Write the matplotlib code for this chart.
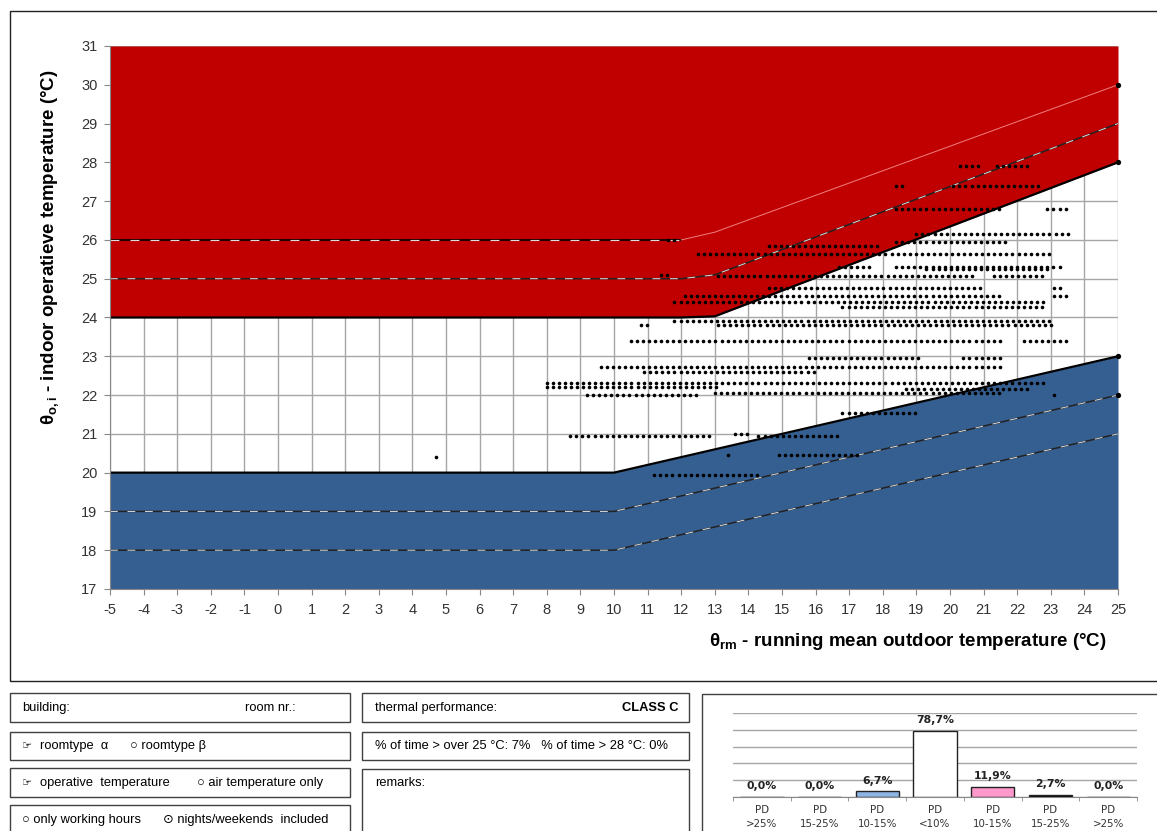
import numpy as np
import matplotlib
matplotlib.use("Agg")
import matplotlib.pyplot as plt
from matplotlib.patches import Rectangle

plt.rcParams['font.family'] = ['Liberation Sans', 'DejaVu Sans']
plt.rcParams['mathtext.fontset'] = 'custom'
plt.rcParams['mathtext.rm'] = 'Liberation Sans'
plt.rcParams['mathtext.bf'] = 'Liberation Sans:bold'
plt.rcParams['mathtext.it'] = 'Liberation Sans:italic'
plt.rcParams['axes.unicode_minus'] = False

# ---------- comfort band limits ----------
band_x = [-5, 12, 13, 25]
upper_limit = [24, 24, 24.03, 28]      # red zone starts here
upper_line_25 = [25, 25, 25.1, 29]
upper_line_26 = [26, 26, 26.2, 30]
low_x = [-5, 10, 25]
lower_limit = [20, 20, 23]             # blue zone ends here
lower_line_19 = [19, 19, 22]
lower_line_18 = [18, 18, 21]

# ---------- measured hours: rows of dots (y, x from, x to) ----------
dot_rows = [
    (27.9, 20.3, 21.0), (27.9, 21.4, 22.3),
    (27.4, 18.4, 18.6), (27.4, 20.1, 22.7),
    (26.8, 18.4, 21.5), (26.8, 22.9, 23.5),
    (26.15, 19.0, 23.5), (26.0, 11.6, 11.9),
    (25.95, 18.4, 21.8), (25.85, 14.6, 17.9),
    (25.65, 12.5, 23.1),
    (25.3, 16.7, 17.7), (25.3, 18.4, 23.4), (25.25, 19.3, 22.9),
    (25.1, 11.4, 11.7), (25.07, 13.1, 20.8), (25.07, 21.3, 22.9),
    (24.75, 14.6, 21.0), (24.75, 23.1, 23.4),
    (24.55, 12.1, 21.5), (24.55, 23.1, 23.6),
    (24.4, 11.8, 22.8), (24.27, 16.8, 22.8),
    (23.9, 11.8, 23.0), (23.8, 10.8, 11.1), (23.8, 13.1, 23.0),
    (23.4, 10.5, 21.5), (23.4, 22.2, 23.5),
    (22.95, 15.8, 19.1), (22.95, 20.4, 21.5),
    (22.73, 9.6, 21.5), (22.6, 10.9, 16.0),
    (22.3, 8.0, 22.9), (22.2, 8.0, 13.1), (22.15, 18.7, 22.3),
    (22.05, 13.0, 21.5), (22.0, 9.2, 12.5), (22.0, 23.1, 23.1),
    (21.55, 16.8, 19.0),
    (21.0, 13.6, 14.0), (20.95, 8.7, 12.9), (20.95, 14.3, 16.8),
    (20.45, 14.9, 17.3), (20.45, 13.4, 13.4),
    (19.95, 11.2, 14.3),
    (20.4, 4.7, 4.7),
]
dot_step = 0.18

# ---------- PD distribution ----------
pd_labels = ['PD\n>25%', 'PD\n15-25%', 'PD\n10-15%', 'PD\n<10%',
             'PD\n10-15%', 'PD\n15-25%', 'PD\n>25%']
pd_values = [0.0, 0.0, 6.7, 78.7, 11.9, 2.7, 0.0]
pd_colors = ['white', 'white', '#8db4e2', 'white', '#ff99cc', 'black', 'white']

W, H = 1157, 831
fig = plt.figure(figsize=(W / 100, H / 100), dpi=100)

def fx(px):
    return px / W

def fy(py):
    return 1 - py / H

def box(x0, y0, x1, y1, ec='#404040', lw=1.0):
    fig.add_artist(Rectangle((fx(x0), fy(y1)), (x1 - x0) / W, (y1 - y0) / H,
                             transform=fig.transFigure, fill=False, ec=ec, lw=lw))

# ---------- main chart ----------
ax = fig.add_axes([fx(110), fy(589), fx(1118) - fx(110), fy(46) - fy(589)])
ax.set_xlim(-5, 25)
ax.set_ylim(17, 31)
ax.set_xticks(range(-5, 26))
ax.set_yticks(range(17, 32))
ax.set_axisbelow(True)
ax.grid(True, color='#a6a6a6', lw=1)
for s in ['top', 'right']:
    ax.spines[s].set_visible(False)
for s in ['left', 'bottom']:
    ax.spines[s].set_color('#888888')
ax.tick_params(colors='#888888', length=4, labelsize=10.5, labelcolor='#333333')
ax.tick_params(axis='x', pad=6)
ax.tick_params(axis='y', pad=5)

red = '#c00000'
blue = '#365f91'
ax.fill_between(band_x, upper_limit, 31, color=red, lw=0, zorder=1)
ax.fill_between(low_x, 17, lower_limit, color=blue, lw=0, zorder=1)

# band lines
ax.plot(band_x, upper_limit, color='black', lw=1.6, zorder=2)
ax.plot(low_x, lower_limit, color='black', lw=1.6, zorder=2)
ax.plot(band_x[:2], upper_line_26[:2], color='black', lw=1.2, zorder=2)
ax.plot(band_x[:2], upper_line_26[:2], color='#dddddd', lw=0.8, dashes=(8, 10), zorder=2)
ax.plot(band_x[1:], upper_line_26[1:], color='#f08080', lw=0.7, zorder=2)
for xs, ys in [(band_x, upper_line_25), (low_x, lower_line_19), (low_x, lower_line_18)]:
    ax.plot(xs, ys, color='#222222', lw=1.1, zorder=2)
    ax.plot(xs, ys, color='#e0e0e0', lw=0.7, dashes=(8, 10), zorder=2)
for ys, xs in [(upper_line_26, band_x), (upper_limit, band_x),
               (lower_limit, low_x), (lower_line_19, low_x)]:
    ax.plot(xs[-1], ys[-1], 'o', color='black', ms=2.8, zorder=4, clip_on=False)

# measured dots
for y, x0, x1 in dot_rows:
    xs = np.arange(x0, x1 + 0.01, dot_step)
    ax.plot(xs, np.full(len(xs), y), 'o', color='black', ms=2.6, mew=0, zorder=3)

fig.text(fx(1107), fy(641), r'θ$_{\mathbf{rm}}$ - running mean outdoor temperature (°C)',
         ha='right', va='center', fontsize=13.5, fontweight='bold')
fig.text(fx(50), fy(247), r'θ$_{\mathbf{o,i}}$ - indoor operatieve temperature (°C)',
         ha='center', va='center', rotation=90, fontsize=13.5, fontweight='bold')

# outer frame of chart
box(9.5, 10.5, 1200, 681, ec='#222222', lw=1.0)

# ---------- info boxes ----------
box(10, 693, 350, 722)
box(10, 732, 350, 760)
box(10, 768, 350, 797)
box(10, 805, 350, 860)
box(362, 693, 689, 722)
box(362, 732, 689, 760)
box(362, 769, 689, 860)
box(702, 694, 1200, 860)

fs = 9.3
fig.text(fx(22), fy(708), 'building:', va='center', fontsize=fs)
fig.text(fx(245), fy(708), 'room nr.:', va='center', fontsize=fs)
fig.text(fx(22), fy(746), '☞', va='center', fontsize=8, family=['DejaVu Sans'])
fig.text(fx(40), fy(746), 'roomtype  α', va='center', fontsize=fs)
fig.text(fx(130), fy(746), '○ roomtype β', va='center', fontsize=fs)
fig.text(fx(22), fy(783), '☞', va='center', fontsize=8, family=['DejaVu Sans'])
fig.text(fx(40), fy(783), 'operative  temperature', va='center', fontsize=fs)
fig.text(fx(197), fy(783), '○ air temperature only', va='center', fontsize=fs)
fig.text(fx(22), fy(820), '○ only working hours', va='center', fontsize=fs)
fig.text(fx(163), fy(820), '⊙ nights/weekends  included', va='center', fontsize=fs)

fig.text(fx(375), fy(708), 'thermal performance:', va='center', fontsize=fs)
fig.text(fx(678), fy(708), 'CLASS C', va='center', ha='right', fontsize=fs, fontweight='bold')
fig.text(fx(375), fy(746), '% of time > over 25 °C: 7%   % of time > 28 °C: 0%',
         va='center', fontsize=fs)
fig.text(fx(375), fy(783), 'remarks:', va='center', fontsize=fs)

# ---------- PD bar chart ----------
bx = fig.add_axes([fx(733), fy(797), fx(1137) - fx(733), fy(713) - fy(797)])
pos = np.arange(len(pd_values))
bx.bar(pos, pd_values, width=0.75, color=pd_colors, edgecolor='#222222', lw=1, zorder=2)
bx.set_xlim(-0.5, 6.5)
bx.set_ylim(0, 100)
bx.set_yticks([0, 20, 40, 60, 80, 100])
bx.yaxis.grid(True, color='#a6a6a6', lw=1)
bx.set_axisbelow(True)
for s in ['top', 'right', 'left']:
    bx.spines[s].set_visible(False)
bx.spines['bottom'].set_color('#888888')
bx.tick_params(axis='y', length=0, labelleft=False)
bx.set_xticks(pos)
bx.set_xticklabels(pd_labels, fontsize=7.4, family=['DejaVu Sans'], linespacing=1.45,
                   color='#333333')
bx.set_xticks(np.arange(-0.5, 7, 1), minor=True)
bx.tick_params(axis='x', which='major', length=0, pad=6)
bx.tick_params(axis='x', which='minor', length=3, color='#888888')
for p, v in zip(pos, pd_values):
    bx.annotate(f'{v:.1f}%'.replace('.', ','), (p, v), xytext=(0, 4),
                textcoords='offset points', ha='center', va='bottom',
                fontsize=7.8, fontweight='bold', family=['DejaVu Sans'], color='#222222')

fig.savefig('out.png', dpi=100)
